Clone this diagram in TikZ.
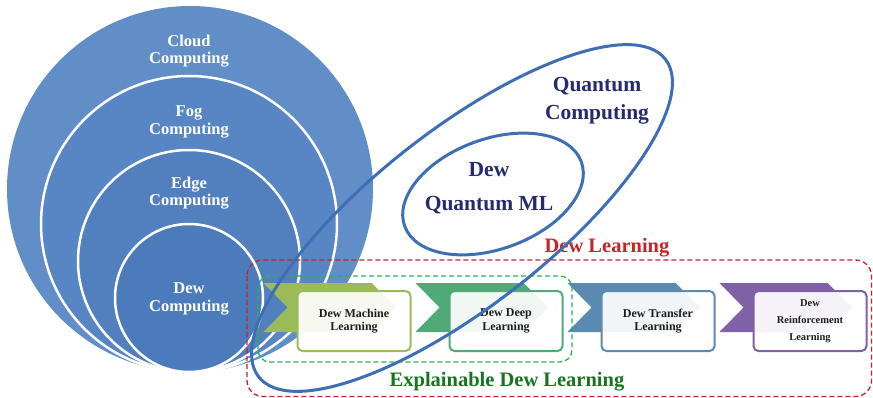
\documentclass[tikz,border=0pt]{standalone}
\usepackage{fontspec}
\setmainfont{Liberation Serif}
\usepackage{tikz}
\usetikzlibrary{shapes.geometric, positioning, calc}
\definecolor{ringouter}{RGB}{98,142,200}
\definecolor{ringfog}{RGB}{88,133,195}
\definecolor{ringedge}{RGB}{82,128,191}
\definecolor{ringdew}{RGB}{76,123,187}
\definecolor{myblue}{RGB}{62,110,180}
\definecolor{mynavy}{RGB}{38,42,110}
\definecolor{myred}{RGB}{200,35,40}
\definecolor{mygreen}{RGB}{40,180,80}
\definecolor{darkgreen}{RGB}{22,118,30}
\definecolor{mytext}{RGB}{30,30,30}
\definecolor{cholive}{RGB}{155,187,89}
\definecolor{chteal}{RGB}{80,170,120}
\definecolor{chsteel}{RGB}{90,138,178}
\definecolor{chpurple}{RGB}{128,96,166}
\pgfdeclarelayer{background}
\pgfsetlayers{background,main}
\tikzset{
  ring/.style={circle, draw=white, line width=2.5pt, inner sep=0pt},
  ringlabel/.style={text=white, align=center,
    font=\fontsize{16.5}{17.5}\selectfont\bfseries},
  stepbox/.style={rectangle, rounded corners=5pt, line width=2pt,
    fill=white, fill opacity=0.92, text opacity=1, text=mytext,
    minimum width=113pt, minimum height=60pt, align=center,
    font=\fontsize{12}{13.5}\selectfont\bfseries},
  qring/.style={ellipse, draw=myblue, line width=3pt, inner sep=0pt},
  qlabel/.style={text=mynavy, align=center,
    font=\fontsize{21.5}{28}\selectfont\bfseries},
  dashbox/.style={line width=1.3pt, rounded corners=16pt,
    dash pattern=on 5pt off 3pt},
  grouplabel/.style={anchor=base, font=\fontsize{20.5}{24}\selectfont\bfseries}
}

\begin{document}
\begin{tikzpicture}[x=1pt, y=-1pt, node distance=37pt]
  \useasboundingbox (0,0) rectangle (873,398);

  \begin{pgfonlayer}{background}
    \node[circle, fill=ringouter, inner sep=0pt, minimum size=366pt] (cloud) at (190,189) {};
    \node[ring, fill=ringfog, minimum size=296pt] (fog) at (189,224) {};
    \node[ring, fill=ringedge, minimum size=222pt] (edge) at (189,261) {};
    \node[ring, fill=ringdew, minimum size=148pt] (dew) at (189,298) {};
  \end{pgfonlayer}
  \node[ringlabel] (cloudlab) at (189,51) {Cloud\\Computing};
  \node[ringlabel] (foglab) at (189,122) {Fog\\Computing};
  \node[ringlabel] (edgelab) at (189,193) {Edge\\Computing};
  \node[ringlabel] (dewlab) at (189,299) {Dew\\Computing};

  \node[stepbox, draw=cholive] (dml) at (354,321) {Dew Machine\\Learning};
  \node[stepbox, draw=chteal, right=of dml] (ddl) {Dew Deep\\Learning};
  \node[stepbox, draw=chsteel, right=of ddl] (dtl) {Dew Transfer\\Learning};
  \node[stepbox, draw=chpurple, right=of dtl,
    font=\fontsize{10.5}{17}\selectfont\bfseries] (drl) {Dew\\Reinforcement\\Learning};

  \begin{pgfonlayer}{background}
    \foreach \bx/\col in {dml/cholive, ddl/chteal, dtl/chsteel, drl/chpurple}
      \fill[\col] ($(\bx.west)+(-33,-38)$) -- ++(108,0) -- ++(24.5,24.5)
        -- ++(-24.5,24.5) -- ++(-108,0) -- ++(24,-24.5) -- cycle;
  \end{pgfonlayer}

  \draw[dashbox, draw=myred] (247,260) rectangle (871.5,396.5);
  \draw[dashbox, draw=mygreen, rounded corners=12pt] (258,276) rectangle (572,362);
  \node[grouplabel, text=myred] (dlearn) at (607,253) {Dew Learning};
  \node[grouplabel, text=darkgreen] (xlearn) at (507,386.5) {Explainable Dew Learning};

  \node[qring, minimum width=516pt, minimum height=176pt, rotate=38] (qc) at (462,218) {};
  \node[qring, minimum width=188pt, minimum height=110pt, rotate=20] (dqml) at (493,194) {};
  \node[qlabel] (qclab) at (597,101) {Quantum\\Computing};
  \node[qlabel, font=\fontsize{21.5}{34}\selectfont\bfseries] (dqmllab) at (489,188) {Dew\\Quantum ML};
\end{tikzpicture}
\end{document}
